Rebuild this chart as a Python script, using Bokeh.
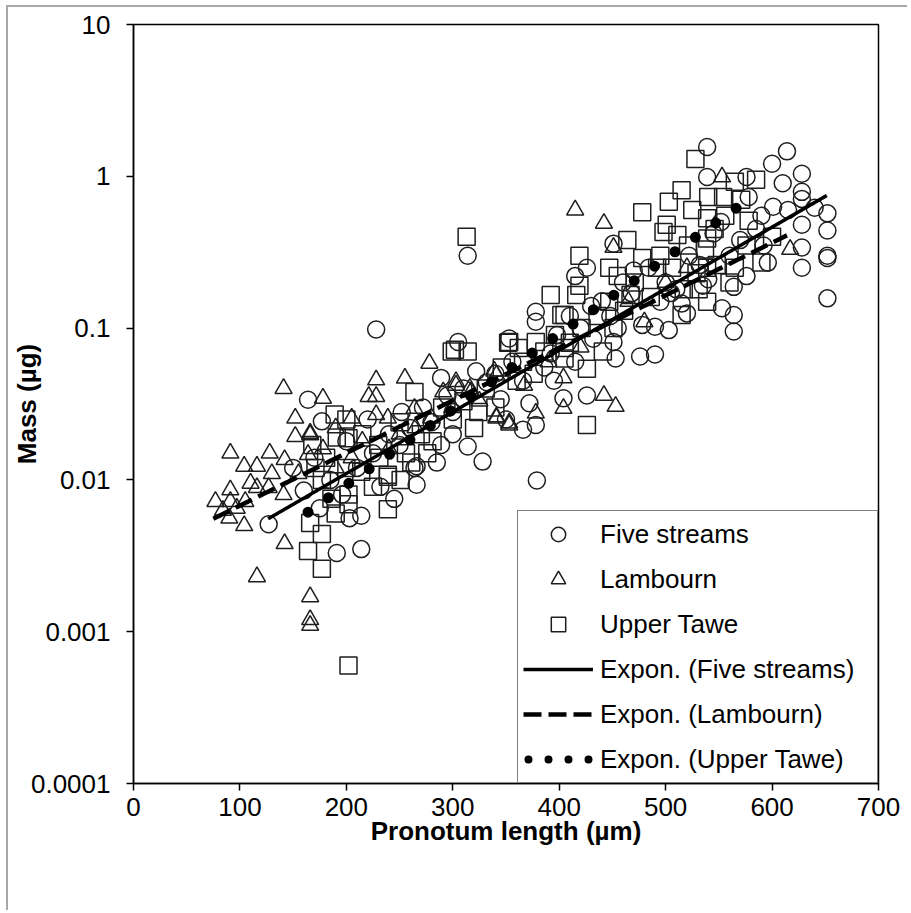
import numpy as np
from bokeh.plotting import figure
from bokeh.models import (Range1d, FixedTicker, CustomJSTickFormatter, Legend,
                          LegendItem)
from bokeh.embed import file_html
from bokeh.resources import INLINE

# ---------------- data ----------------
five_x = [539, 614, 600, 539, 576, 628, 628, 628, 601, 652, 652, 628, 628, 652, 652, 628,
          652, 578, 592, 576, 564, 564, 564, 553, 451, 426, 415, 378, 378, 314, 478, 490,
          503, 476, 490, 453, 451, 426, 404, 305, 353, 378, 366, 314, 328, 392, 495, 515,
          228, 164, 266, 266, 289, 300, 252, 289, 177, 127, 191, 214, 214, 203, 264, 379,
          340, 356, 366, 372, 386, 398, 410, 420, 432, 440, 448, 460, 468, 484, 500, 510,
          522, 532, 545, 552, 560, 570, 585, 596, 610, 615, 540, 520, 150, 170, 185, 196,
          210, 225, 240, 250, 260, 272, 280, 295, 310, 322, 332, 345, 300, 285, 232, 245,
          160, 175, 200, 220, 350, 395, 415, 430, 455, 470, 505, 535, 590, 640]
five_y = [1.56, 1.46, 1.21, 0.99, 0.99, 1.04, 0.79, 0.71, 0.63, 0.57, 0.44, 0.48, 0.34, 0.30,
          0.29, 0.25, 0.157, 0.73, 0.35, 0.22, 0.187, 0.122, 0.095, 0.135, 0.36, 0.25, 0.22,
          0.128, 0.11, 0.30, 0.105, 0.102, 0.097, 0.065, 0.067, 0.063, 0.081, 0.036, 0.0345,
          0.081, 0.0855, 0.023, 0.0214, 0.0166, 0.0132, 0.068, 0.149, 0.145,
          0.098, 0.0337, 0.0123, 0.0093, 0.017, 0.028, 0.028, 0.047, 0.0243, 0.0051, 0.0033,
          0.0035, 0.0058, 0.0056, 0.012, 0.0099,
          0.05, 0.06, 0.045, 0.032, 0.055, 0.09, 0.12, 0.10, 0.085, 0.15, 0.12, 0.2, 0.17,
          0.25, 0.2, 0.18, 0.3, 0.26, 0.42, 0.5, 0.3, 0.38, 0.45, 0.27, 0.9, 0.6, 0.21, 0.125,
          0.012, 0.014, 0.010, 0.008, 0.012, 0.015, 0.020, 0.017, 0.022, 0.030, 0.024, 0.036,
          0.040, 0.052, 0.044, 0.034, 0.020, 0.013, 0.009, 0.0075, 0.0085, 0.0065, 0.018,
          0.025, 0.025, 0.045, 0.06, 0.14, 0.1, 0.24, 0.17, 0.19, 0.55, 0.62]

lamb_x = [91, 104, 116, 128, 142, 152, 166, 152, 77, 91, 91, 105, 116, 127, 90, 104, 141,
          142, 116, 166, 166, 166, 164,
          141, 178, 228, 221, 228, 255, 278, 166, 205, 228, 239, 291, 303, 316, 341, 353,
          339, 264, 280,
          415, 442, 451, 553, 617, 480, 442, 453, 404, 404, 378, 341, 353, 303, 317, 341, 367,
          178, 190, 215, 250, 265, 300, 325, 390, 420, 465, 500, 520, 130, 110, 97, 84, 155,
          190, 205, 240]
lamb_y = [0.015, 0.0123, 0.0123, 0.015, 0.0136, 0.0255, 0.0203, 0.0193, 0.0072, 0.0086,
          0.0072, 0.0072, 0.0089, 0.0089, 0.0056, 0.005, 0.008, 0.0038, 0.0023, 0.0017,
          0.0012, 0.0011, 0.0147,
          0.040, 0.0345, 0.0456, 0.0354, 0.0354, 0.0468, 0.0586, 0.0198, 0.0255, 0.0269,
          0.0255, 0.038, 0.0444, 0.040, 0.0255, 0.0237, 0.052, 0.0296, 0.0255,
          0.60, 0.49, 0.34, 0.99, 0.33, 0.11, 0.036, 0.0305, 0.047, 0.0296, 0.0275, 0.026,
          0.023, 0.042, 0.038, 0.049, 0.042,
          0.016, 0.022, 0.018, 0.020, 0.022, 0.030, 0.033, 0.060, 0.075, 0.15, 0.2, 0.25,
          0.011, 0.0095, 0.0065, 0.0063, 0.011, 0.012, 0.014, 0.016]

tawe_x = [528, 515, 503, 478, 540, 554, 565, 578, 501, 511, 539, 537, 590, 539, 515, 464,
          478, 455, 419, 416, 405, 313, 314, 299, 353, 378, 426, 441, 426, 447, 467, 492,
          548, 565, 529, 405,
          302, 352, 189, 202, 239, 264, 168,
          202, 177, 164, 166, 177, 239, 202, 177, 202, 191, 239, 214,
          539, 498, 539, 517, 447, 419, 392, 402, 405, 362, 324,
          215, 230, 250, 256, 270, 281, 290, 300, 310, 320, 331, 340, 346, 360, 366, 376,
          386, 396, 410, 421, 436, 451, 461, 471, 486, 495, 506, 521, 525, 546, 556, 571,
          576, 585, 600, 560, 531, 190, 186, 200, 225, 231, 251, 261, 276, 200, 171, 181]
tawe_y = [1.30, 0.81, 0.68, 0.58, 0.73, 0.73, 0.92, 0.51, 0.48, 0.41, 0.39, 0.33, 0.27,
          0.149, 0.122, 0.38, 0.29, 0.22, 0.19, 0.165, 0.122, 0.40, 0.070, 0.070, 0.081,
          0.081, 0.023, 0.070, 0.054, 0.149, 0.165, 0.25, 0.26, 0.25, 0.23, 0.063,
          0.072, 0.08, 0.027, 0.0188, 0.0108, 0.038, 0.017,
          0.0006, 0.0026, 0.0034, 0.0052, 0.0044, 0.0064, 0.0069, 0.010, 0.008, 0.019,
          0.0105, 0.0113,
          0.53, 0.43, 0.25, 0.18, 0.25, 0.30, 0.165, 0.122, 0.074, 0.074, 0.028,
          0.02, 0.017, 0.024, 0.015, 0.020, 0.018, 0.030, 0.025, 0.033, 0.022, 0.040, 0.030,
          0.055, 0.045, 0.060, 0.050, 0.070, 0.090, 0.080, 0.10, 0.12, 0.10, 0.13, 0.20,
          0.16, 0.30, 0.25, 0.35, 0.60, 0.45, 0.55, 0.70, 0.35, 0.95, 0.40, 0.20, 0.18,
          0.006, 0.0075, 0.012, 0.009, 0.014, 0.010, 0.013, 0.015, 0.025, 0.012, 0.014]

# exponential trend lines  y = a * exp(b * x)
fit_labels = ["Expon. (Five streams)", "Expon. (Lambourn)", "Expon. (Upper Tawe)"]
fit_a = [0.001701, 0.003051, 0.000935]
fit_b = [0.009342, 0.007974, 0.01146]
fit_xmin = [126.5, 75, 164]
fit_xmax = [651.4, 614, 578]

series_labels = ["Five streams", "Lambourn", "Upper Tawe"]
x_ticks = [0, 100, 200, 300, 400, 500, 600, 700]
y_ticks = [0.0001, 0.001, 0.01, 0.1, 1, 10]

FONT = "Liberation Sans"

p = figure(width=901, height=905, x_range=Range1d(0, 700), y_range=Range1d(1e-4, 10),
           y_axis_type="log", output_backend="svg", toolbar_location=None,
           min_border_left=123, min_border_right=31, min_border_top=17, min_border_bottom=129,
           styles={"margin-left": "6px", "margin-top": "5px",
                   "border-left": "2px solid #a8a8a8", "border-top": "2px solid #a8a8a8"})
p.xgrid.visible = False
p.ygrid.visible = False
p.outline_line_color = "black"
p.outline_line_width = 1.5
p.background_fill_color = "white"
p.border_fill_color = "white"

for ax in (p.xaxis[0], p.yaxis[0]):
    ax.axis_line_color = "black"
    ax.axis_line_width = 1.5
    ax.major_tick_line_color = "black"
    ax.major_tick_line_width = 1.5
    ax.major_tick_out = 7
    ax.major_tick_in = 0
    ax.minor_tick_out = 0
    ax.minor_tick_in = 0
    ax.major_label_text_font = FONT
    ax.major_label_text_font_size = "26px"
    ax.major_label_text_color = "black"
    ax.axis_label_text_font = FONT
    ax.axis_label_text_font_size = "26px"
    ax.axis_label_text_font_style = "bold"
    ax.axis_label_text_color = "black"

p.xaxis.ticker = FixedTicker(ticks=x_ticks)
p.yaxis.ticker = FixedTicker(ticks=y_ticks)
p.yaxis.formatter = CustomJSTickFormatter(code="""
    if (tick >= 1) { return tick.toFixed(0); }
    const d = Math.round(-Math.log10(tick));
    return tick.toFixed(d);
""")
p.xaxis.major_label_standoff = 7
p.yaxis.major_label_standoff = 16
p.xaxis.axis_label = "Pronotum length (µm)"
p.xaxis.axis_label_standoff = -3
p.yaxis.axis_label = "Mass (µg)"
p.yaxis.axis_label_standoff = -14

mk = dict(size=17, fill_alpha=0, line_color="#1e1e1e", line_width=1.5)
r_five = p.scatter(five_x, five_y, marker="circle", **mk)
r_lamb = p.scatter(lamb_x, lamb_y, marker="triangle", **mk)
r_tawe = p.scatter(tawe_x, tawe_y, marker="square", **mk)

# trend-line styles in the plot and (slightly finer) in the legend
plot_styles = [dict(line_width=3.5, line_dash="solid"),
               dict(line_width=4.5, line_dash="18 7"),
               dict(line_width=11, line_dash="0 25", line_cap="round")]
legend_styles = [dict(line_width=3.5, line_dash="solid"),
                 dict(line_width=4.5, line_dash="18 7"),
                 dict(line_width=8, line_dash="0 20", line_dash_offset=-5, line_cap="round")]
legend_line_renderers = []
for a, b, x0, x1, st, lst in zip(fit_a, fit_b, fit_xmin, fit_xmax, plot_styles, legend_styles):
    xs = np.linspace(x0, x1, 200)
    ys = a * np.exp(b * xs)
    p.line(xs, ys, line_color="black", **st)
    # hidden twin used only to draw the legend sample
    legend_line_renderers.append(p.line(xs, ys, line_color="black", visible=False, **lst))

items = [LegendItem(label=series_labels[0], renderers=[r_five]),
         LegendItem(label=series_labels[1], renderers=[r_lamb]),
         LegendItem(label=series_labels[2], renderers=[r_tawe])]
for lab, r in zip(fit_labels, legend_line_renderers):
    items.append(LegendItem(label=lab, renderers=[r]))

legend = Legend(items=items, location="bottom_right", margin=0, padding=5, spacing=9,
                glyph_width=70, glyph_height=36, label_standoff=7, label_width=272,
                label_text_font=FONT, label_text_font_size="26px", label_text_color="black",
                border_line_color="black", border_line_width=1.5,
                background_fill_color="white", background_fill_alpha=1)
p.add_layout(legend)

open("out.html", "w").write(file_html(p, INLINE))
